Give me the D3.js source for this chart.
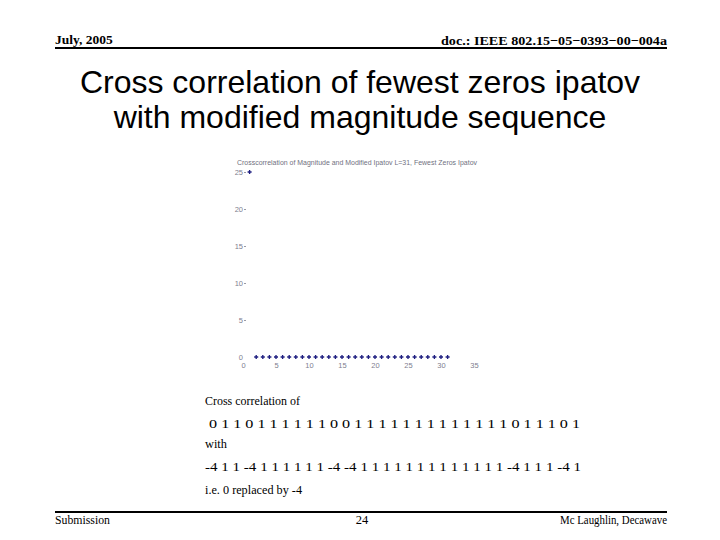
<!DOCTYPE html>
<html><head><meta charset="utf-8">
<script src="https://cdn.jsdelivr.net/npm/d3@7"></script>
<style>html,body{margin:0;padding:0;background:#fff;}svg{display:block;}</style>
</head><body>
<svg id="c" width="720" height="540"></svg>
<script>
// ---- data ----
const lags = d3.range(1, 32);            // 1..31
const xcorr = [25, 0,0,0,0,0,0,0,0,0,0, 0,0,0,0,0,0,0,0,0,0, 0,0,0,0,0,0,0,0,0,0];
const xTicks = [0, 5, 10, 15, 20, 25, 30, 35];
const yTicks = [0, 5, 10, 15, 20, 25];
const seqIpatov = [0,1,1,0,1,1,1,1,1,1,0,0,1,1,1,1,1,1,1,1,1,1,1,1,1,0,1,1,1,0,1];
const seqModified = seqIpatov.map(v => v === 0 ? -4 : 1);
const headerLeft = "July, 2005";
const headerRight = "doc.: IEEE 802.15\u221205\u22120393\u221200\u2212004a";
const titleLines = ["Cross correlation of fewest zeros ipatov", "with modified magnitude sequence"];
const chartTitle = "Crosscorrelation of Magnitude and Modified Ipatov L=31, Fewest Zeros Ipatov";
const footer = ["Submission", "24", "Mc Laughlin, Decawave"];

const svg = d3.select("#c");
const serif = "'Liberation Serif','Times New Roman',serif";
const sans = "'Liberation Sans',Arial,sans-serif";

// header
svg.append("text").attr("x", 55).attr("y", 44).attr("font-family", serif).attr("font-weight", "bold")
  .attr("font-size", 13.5).text(headerLeft);
svg.append("text").attr("x", 667).attr("y", 45).attr("text-anchor", "end").attr("font-family", serif)
  .attr("font-weight", "bold").attr("font-size", 13.5).attr("textLength", 226).attr("lengthAdjust", "spacingAndGlyphs")
  .text(headerRight);
svg.append("line").attr("x1", 55).attr("x2", 667).attr("y1", 48).attr("y2", 48).attr("stroke", "#000").attr("stroke-width", 2);

// title
svg.selectAll("text.title").data(titleLines).join("text").attr("class", "title")
  .attr("x", 360).attr("y", (d, i) => 93 + i * 35).attr("text-anchor", "middle")
  .attr("font-family", sans).attr("font-size", 32).attr("fill", "#000").text(d => d);

// chart
const x = d3.scaleLinear().domain([0, 35]).range([243, 474]);
const y = d3.scaleLinear().domain([0, 25]).range([357, 172]);
const axCol = "#80808f";

const gx = svg.append("g").attr("transform", "translate(0,361)")
  .call(d3.axisBottom(x).tickValues(xTicks).tickSize(0).tickPadding(2));
gx.select(".domain").remove();
gx.selectAll("text").attr("font-family", sans).attr("font-size", 7.5).attr("fill", axCol);

const gy = svg.append("g").attr("transform", "translate(246,0)")
  .call(d3.axisLeft(y).tickValues(yTicks).tickSize(2).tickPadding(1));
gy.select(".domain").remove();
gy.selectAll("line").attr("stroke", axCol).attr("stroke-width", 0.8);
gy.selectAll(".tick").filter(d => d === 0).select("line").remove();
gy.selectAll("text").attr("font-family", sans).attr("font-size", 7.5).attr("fill", axCol);

svg.append("text").attr("x", 237).attr("y", 165).attr("font-family", sans).attr("font-size", 6.5)
  .attr("fill", "#707080").attr("textLength", 240).attr("lengthAdjust", "spacingAndGlyphs").text(chartTitle);

svg.append("g").selectAll("path").data(lags).join("path")
  .attr("transform", (d, i) => `translate(${x(d)},${y(xcorr[i])})`)
  .attr("d", d3.symbol().type(d3.symbolCross).size(9))
  .attr("fill", "#1e1e80");

// lower text block
const lines = [
  {t: "Cross correlation of", y: 405, w: 95},
  {t: " " + seqIpatov.join(" "), y: 428, w: 375},
  {t: "with", y: 448, w: 22},
  {t: seqModified.join(" "), y: 471, w: 376},
  {t: "i.e. 0 replaced by -4", y: 494, w: 97}
];
svg.selectAll("text.body").data(lines).join("text").attr("class", "body")
  .attr("x", 205).attr("y", d => d.y).attr("font-family", serif).attr("font-size", 12.3)
  .attr("xml:space", "preserve").style("white-space", "pre")
  .attr("textLength", d => d.w).attr("lengthAdjust", "spacingAndGlyphs")
  .text(d => d.t);

// footer
svg.append("line").attr("x1", 55).attr("x2", 667).attr("y1", 512).attr("y2", 512).attr("stroke", "#000").attr("stroke-width", 2);
svg.append("text").attr("x", 55).attr("y", 524).attr("font-family", serif).attr("font-size", 12.5)
  .attr("textLength", 55).attr("lengthAdjust", "spacingAndGlyphs").text(footer[0]);
svg.append("text").attr("x", 362).attr("y", 524).attr("text-anchor", "middle").attr("font-family", serif).attr("font-size", 12.5).text(footer[1]);
svg.append("text").attr("x", 667).attr("y", 524).attr("text-anchor", "end").attr("font-family", serif).attr("font-size", 12.5)
  .attr("textLength", 107).attr("lengthAdjust", "spacingAndGlyphs").text(footer[2]);
</script>
</body></html>
